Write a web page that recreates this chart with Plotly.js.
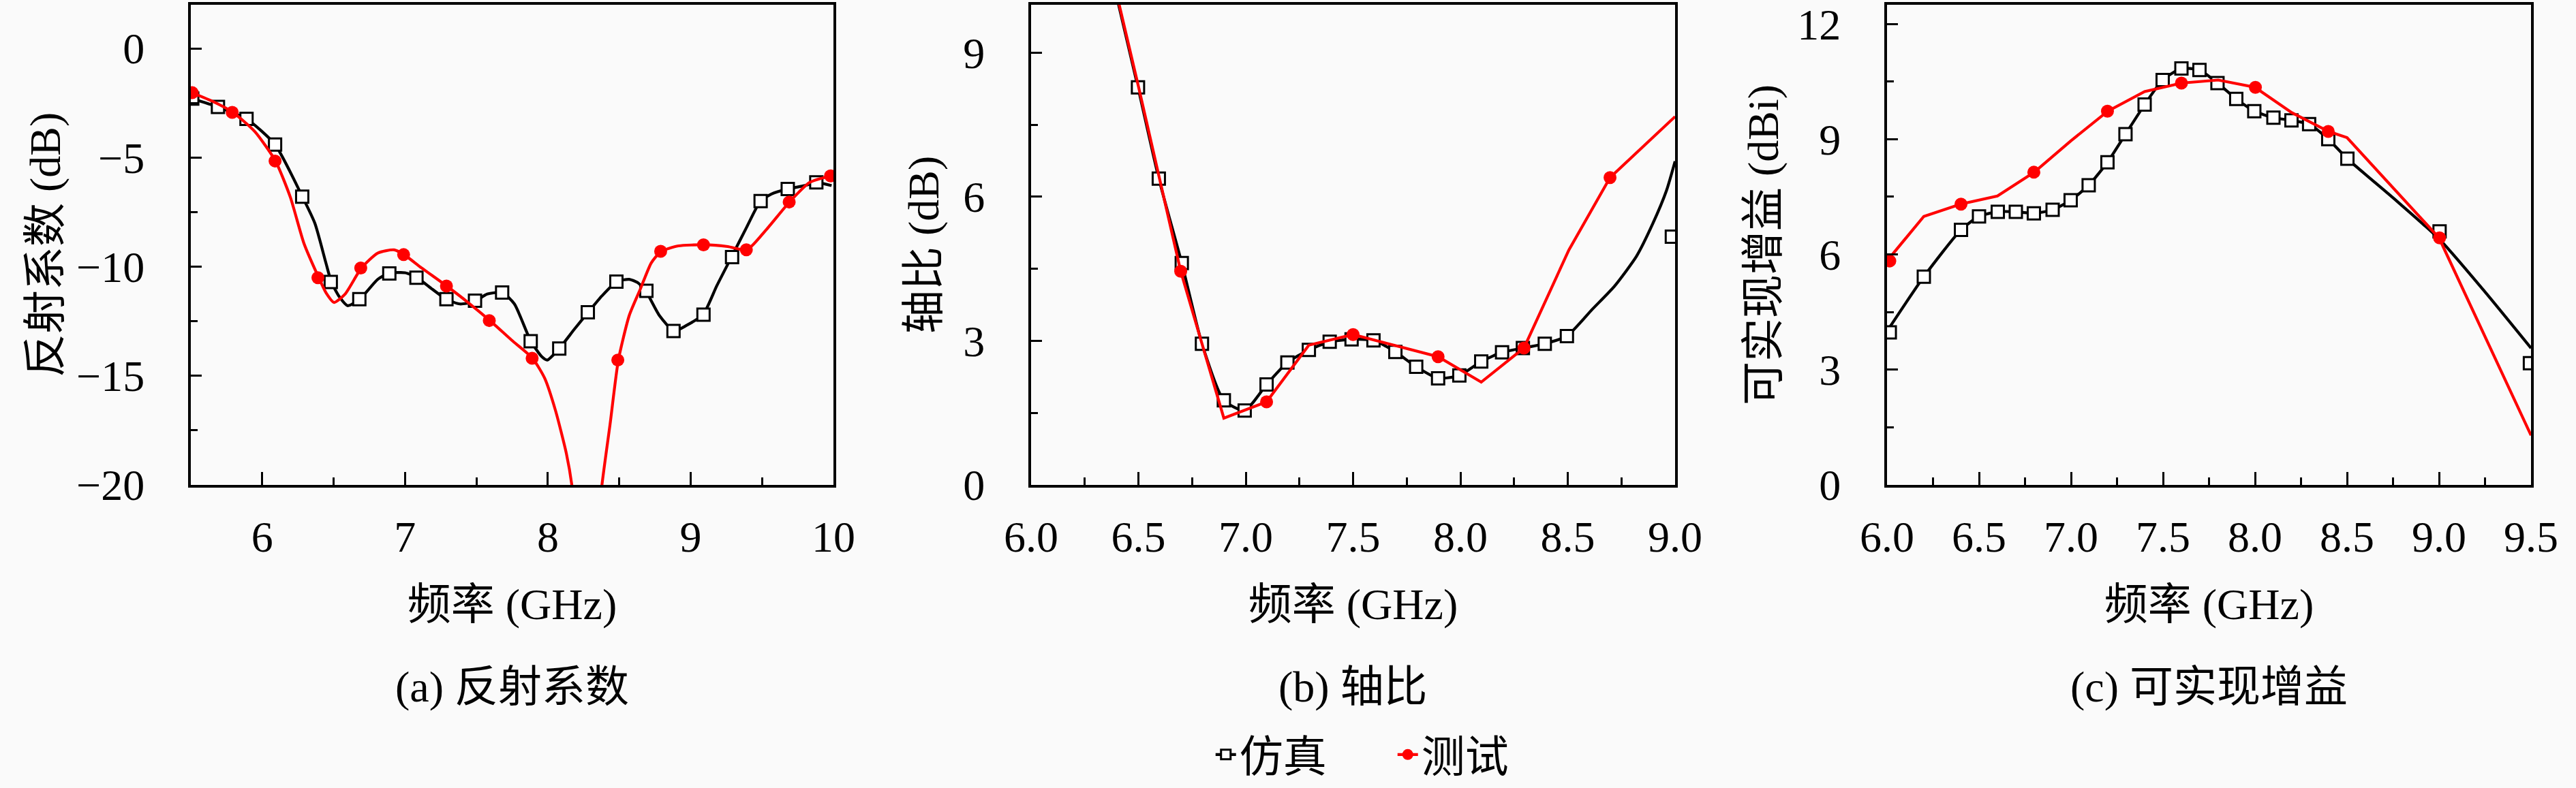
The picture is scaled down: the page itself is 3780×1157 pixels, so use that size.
<!DOCTYPE html>
<html>
<head>
<meta charset="utf-8">
<script src="https://cdn.plot.ly/plotly-3.0.1.min.js"></script>
<style>html,body{margin:0;padding:0;background:#fafafa;}#plot{width:3780px;height:1157px;}</style>
</head>
<body>
<div id="plot"></div>
<script>
// ---------- Panel (a) 反射系数 ----------
const aSimLineX = [5.508,5.688,5.890,6.090,6.281,6.369,6.446,6.484,6.541,6.599,6.683,6.809,6.886,7.001,7.085,7.192,7.288,7.384,7.487,7.575,7.682,7.766,7.881,7.958,7.996,8.080,8.188,8.283,8.379,8.482,8.570,8.628,8.685,8.781,8.884,8.972,9.087,9.183,9.286,9.394,9.489,9.566,9.681,9.796,9.884,9.987];
const aSimLineY = [-2.30,-2.68,-3.23,-4.41,-6.79,-8.02,-9.83,-10.70,-11.39,-11.79,-11.49,-10.58,-10.31,-10.28,-10.51,-11.04,-11.49,-11.71,-11.60,-11.26,-11.19,-11.71,-13.42,-14.13,-14.28,-13.75,-12.85,-12.09,-11.34,-10.69,-10.58,-10.73,-11.11,-12.24,-12.95,-12.69,-12.20,-10.88,-9.56,-8.17,-7.00,-6.67,-6.44,-6.29,-6.14,-6.29];
const aSimMkX = [5.51,5.69,5.89,6.09,6.28,6.48,6.68,6.89,7.08,7.29,7.49,7.68,7.88,8.08,8.28,8.48,8.69,8.88,9.09,9.29,9.49,9.68,9.88];
const aSimMkY = [-2.30,-2.68,-3.23,-4.41,-6.79,-10.70,-11.49,-10.31,-10.51,-11.49,-11.56,-11.19,-13.42,-13.75,-12.09,-10.69,-11.11,-12.95,-12.20,-9.56,-7.00,-6.44,-6.14];
const aMeaLineX = [5.508,5.661,5.795,5.948,6.093,6.197,6.292,6.396,6.446,6.503,6.580,6.695,6.809,6.924,6.993,7.116,7.292,7.441,7.594,7.747,7.893,7.977,8.054,8.130,8.168,8.270,8.379,8.436,8.494,8.570,8.647,8.724,8.793,8.915,9.095,9.260,9.394,9.528,9.692,9.834,9.979];
const aMeaLineY = [-2.03,-2.45,-2.93,-3.81,-5.16,-6.82,-8.93,-10.51,-11.19,-11.64,-11.26,-10.06,-9.38,-9.23,-9.45,-10.06,-10.89,-11.64,-12.47,-13.37,-14.20,-15.10,-16.60,-18.57,-20.00,-27.0,-20.00,-17.21,-14.28,-12.24,-11.04,-9.83,-9.30,-9.05,-9.00,-9.08,-9.23,-8.32,-7.04,-6.14,-5.84];
const aMeaMkX = [5.51,5.79,6.09,6.39,6.69,6.99,7.29,7.59,7.89,8.49,8.79,9.09,9.39,9.69,9.98];
const aMeaMkY = [-2.03,-2.93,-5.16,-10.51,-10.06,-9.45,-10.89,-12.47,-14.20,-14.28,-9.30,-9.00,-9.23,-7.04,-5.84];

// ---------- Panel (b) 轴比 ----------
const bSimLineX = [6.35,6.498,6.595,6.702,6.796,6.898,6.995,7.097,7.194,7.294,7.391,7.493,7.595,7.697,7.794,7.896,7.995,8.097,8.194,8.291,8.393,8.496,8.615,8.718,8.820,8.896,8.960,9.0];
const bSimLineY = [11.1,8.28,6.38,4.62,2.94,1.76,1.55,2.09,2.55,2.81,2.98,3.03,3.01,2.77,2.46,2.22,2.28,2.57,2.76,2.85,2.94,3.10,3.66,4.14,4.76,5.44,6.13,6.74];
const bSimMkX = [6.498,6.595,6.702,6.796,6.898,6.995,7.097,7.194,7.294,7.391,7.493,7.595,7.697,7.794,7.896,7.995,8.097,8.194,8.291,8.393,8.496,8.985];
const bSimMkY = [8.28,6.38,4.62,2.94,1.76,1.55,2.09,2.55,2.81,2.98,3.03,3.01,2.77,2.46,2.22,2.28,2.57,2.76,2.85,2.94,3.10,5.17];
const bMeaLineX = [6.3,6.5,6.697,6.898,7.097,7.294,7.500,7.7,7.896,8.097,8.296,8.505,8.697,9.0];
const bMeaLineY = [12.1,8.3,4.45,1.39,1.73,2.91,3.13,2.90,2.67,2.14,2.85,4.89,6.40,7.67];
const bMeaMkX = [6.697,7.097,7.500,7.896,8.296,8.697];
const bMeaMkY = [4.45,1.73,3.13,2.67,2.85,6.40];

// ---------- Panel (c) 可实现增益 ----------
const cSimLineX = [6.0,6.200,6.402,6.500,6.602,6.700,6.798,6.900,6.998,7.096,7.198,7.296,7.400,7.498,7.600,7.698,7.796,7.898,7.996,8.100,8.198,8.294,8.398,8.502,8.770,9.003,9.247,9.5];
const cSimLineY = [4.00,5.42,6.64,6.99,7.11,7.11,7.07,7.16,7.41,7.80,8.40,9.13,9.90,10.54,10.84,10.80,10.46,10.05,9.73,9.56,9.49,9.39,9.00,8.49,7.39,6.39,5.04,3.56];
const cSimMkX = [6.015,6.200,6.402,6.500,6.602,6.700,6.798,6.900,6.998,7.096,7.198,7.296,7.400,7.498,7.600,7.698,7.796,7.898,7.996,8.100,8.198,8.294,8.398,8.502,9.003,9.494];
const cSimMkY = [3.97,5.42,6.64,6.99,7.11,7.11,7.07,7.16,7.41,7.80,8.40,9.13,9.90,10.54,10.84,10.80,10.46,10.05,9.73,9.56,9.49,9.39,9.00,8.49,6.60,3.17];
const cMeaLineX = [6.0,6.2,6.4,6.6,6.8,7.0,7.2,7.4,7.6,7.8,8.0,8.2,8.4,8.5,9.0,9.5];
const cMeaLineY = [5.83,6.99,7.31,7.52,8.14,8.96,9.73,10.24,10.46,10.54,10.35,9.69,9.20,9.04,6.43,1.29];
const cMeaMkX = [6.015,6.402,6.798,7.198,7.600,8.002,8.398,9.003];
const cMeaMkY = [5.83,7.31,8.14,9.73,10.46,10.35,9.20,6.43];

const seriesNames = ['仿真','测试'];
const yTitles = ['反射系数 (dB)','轴比 (dB)','可实现增益 (dBi)'];
const xTitle = '频率 (GHz)';
const captions = ['(a) 反射系数','(b) 轴比','(c) 可实现增益'];

const FONT = '"Liberation Serif", "Noto Sans CJK SC", serif';
const BLACK = '#000000', RED = '#ff0000', BG = '#fafafa';
const LW = 4.2;
const simLine = {color: BLACK, width: LW, shape: 'spline', smoothing: 0.6};
const simMarker = {symbol: 'square', size: 18, color: '#ffffff', line: {color: BLACK, width: 3}};
const meaMarker = {symbol: 'circle', size: 19, color: RED, line: {width: 0}};

function panel(ax, sLX, sLY, sMX, sMY, mLX, mLY, mMX, mMY, redShape) {
  const xa = 'x' + (ax === 1 ? '' : ax), ya = 'y' + (ax === 1 ? '' : ax);
  return [
    {x: sLX, y: sLY, xaxis: xa, yaxis: ya, mode: 'lines', line: simLine, showlegend: false, hoverinfo: 'skip'},
    {x: sMX, y: sMY, xaxis: xa, yaxis: ya, mode: 'markers', marker: simMarker, showlegend: false, cliponaxis: true},
    {x: mLX, y: mLY, xaxis: xa, yaxis: ya, mode: 'lines', line: {color: RED, width: LW, shape: redShape, smoothing: 0.6}, showlegend: false},
    {x: mMX, y: mMY, xaxis: xa, yaxis: ya, mode: 'markers', marker: meaMarker, showlegend: false, cliponaxis: true}
  ];
}

const traces = [].concat(
  panel(1, aSimLineX, aSimLineY, aSimMkX, aSimMkY, aMeaLineX, aMeaLineY, aMeaMkX, aMeaMkY, 'spline'),
  panel(2, bSimLineX, bSimLineY, bSimMkX, bSimMkY, bMeaLineX, bMeaLineY, bMeaMkX, bMeaMkY, 'linear'),
  panel(3, cSimLineX, cSimLineY, cSimMkX, cSimMkY, cMeaLineX, cMeaLineY, cMeaMkX, cMeaMkY, 'linear'),
  [
    {x: [null], y: [null], name: seriesNames[0], mode: 'lines+markers', line: {color: BLACK, width: LW},
     marker: {symbol: 'square', size: 14, color: '#ffffff', line: {color: BLACK, width: 3}}},
    {x: [null], y: [null], name: seriesNames[1], mode: 'lines+markers', line: {color: RED, width: LW},
     marker: {symbol: 'circle', size: 16, color: RED}}
  ]
);

const H = 1157, W = 3780;
const yDom = [1 - 715 / H, 1 - 7 / H];
const xDoms = [[280 / W, 1223 / W], [1513 / W, 2458 / W], [2769 / W, 3714 / W]];

function xAxis(dom, range, tick0, dtick, mdtick, fmt, anchor) {
  return {
    domain: dom, range: range, anchor: anchor, tick0: tick0, dtick: dtick, tickformat: fmt,
    showline: true, linecolor: BLACK, linewidth: 4, mirror: true,
    ticks: 'inside', ticklen: 19, tickwidth: 3, tickcolor: BLACK,
    minor: {dtick: mdtick, tick0: tick0, ticks: 'inside', ticklen: 11, tickwidth: 3, tickcolor: BLACK, showgrid: false},
    showgrid: false, zeroline: false, ticklabelstandoff: 17,
    tickfont: {family: FONT, size: 64, color: BLACK},
    title: {text: xTitle, font: {family: FONT, size: 64, color: BLACK}, standoff: 42},
    fixedrange: true
  };
}
function yAxis(range, tick0, dtick, mdtick, title, anchor, standoff) {
  return {
    domain: yDom, range: range, anchor: anchor, tick0: tick0, dtick: dtick,
    showline: true, linecolor: BLACK, linewidth: 4, mirror: true,
    ticks: 'inside', ticklen: 16, tickwidth: 3, tickcolor: BLACK,
    minor: {dtick: mdtick, tick0: tick0, ticks: 'inside', ticklen: 10, tickwidth: 3, tickcolor: BLACK, showgrid: false},
    showgrid: false, zeroline: false, ticklabelstandoff: 51,
    tickfont: {family: FONT, size: 64, color: BLACK},
    title: {text: title, font: {family: FONT, size: 64, color: BLACK}, standoff: standoff},
    fixedrange: true
  };
}

const layout = {
  width: W, height: H,
  margin: {l: 0, r: 0, t: 0, b: 0, pad: 0},
  paper_bgcolor: BG, plot_bgcolor: BG,
  font: {family: FONT, size: 64, color: BLACK},
  showlegend: true,
  legend: {orientation: 'h', x: 0.5412, xanchor: 'center', y: 1 - 1113 / H, yanchor: 'middle',
           font: {family: FONT, size: 64, color: BLACK}, bgcolor: 'rgba(0,0,0,0)', entrywidth: 222, entrywidthmode: 'pixels',
           itemwidth: 30, tracegroupgap: 0},
  xaxis: xAxis(xDoms[0], [5.5, 10], 6, 1, 0.5, '', 'y'),
  yaxis: yAxis([-20, 2], 0, 5, 2.5, yTitles[0], 'x', 4),
  xaxis2: xAxis(xDoms[1], [6, 9], 6, 0.5, 0.25, '.1f', 'y2'),
  yaxis2: yAxis([0, 10], 0, 3, 1.5, yTitles[1], 'x2', 16),
  xaxis3: xAxis(xDoms[2], [6, 9.5], 6, 0.5, 0.25, '.1f', 'y3'),
  yaxis3: yAxis([0, 12.5], 0, 3, 1.5, yTitles[2], 'x3', 8),
  annotations: captions.map((t, i) => ({
    text: t, xref: 'paper', yref: 'paper', x: (xDoms[i][0] + xDoms[i][1]) / 2, y: 1 - 1013 / H,
    xanchor: 'center', yanchor: 'middle', showarrow: false, font: {family: FONT, size: 64, color: BLACK}
  }))
};

Plotly.newPlot('plot', traces, layout, {displayModeBar: false, staticPlot: true});
</script>
</body>
</html>
